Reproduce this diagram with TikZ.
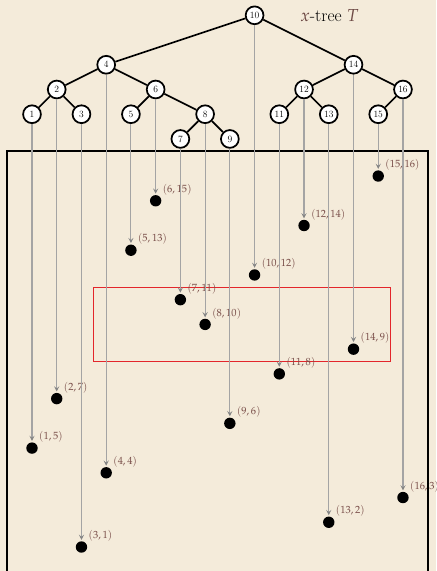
\documentclass[tikz,border=0pt]{standalone}
\usepackage{mathpazo}
\usetikzlibrary{arrows.meta}
\definecolor{bg}{HTML}{F4EBDA}
\definecolor{lblc}{HTML}{7A4F4A}
\definecolor{ttlc}{HTML}{6E4A45}
\definecolor{glin}{HTML}{A4A4A4}
\definecolor{garr}{HTML}{858585}
\definecolor{redbox}{HTML}{E3262B}
\begin{document}
\begin{tikzpicture}[x=1cm,y=1cm,
  tnode/.style={circle, draw=black, line width=2pt, fill=white, minimum size=0.72cm, inner sep=0pt, font=\fontsize{11}{13}\selectfont},
  tedge/.style={line width=1.9pt, black},
  ptnode/.style={circle, fill=black, minimum size=0.46cm, inner sep=0pt},
  proj/.style={draw=glin, line width=1.3pt, -{Stealth[length=6pt,width=6pt,inset=2.5pt,color=garr]}, shorten >=1.5pt},
  lbl/.style={text=lblc, font=\fontsize{12}{14}\selectfont, anchor=west, inner sep=0pt},
  frame/.style={draw=black, line width=2.3pt},
  query/.style={draw=redbox, line width=1.1pt}
]
\useasboundingbox[fill=bg] (-0.294,0.03) rectangle (17.337,23.119);
% frame
\draw[frame] (0,0) rectangle (17,17);
% query rectangle
\draw[query] (3.5,8.5) rectangle (15.5,11.5);
% title
\node[font=\fontsize{20}{22}\selectfont] (title) at (13.03,22.5) {\textcolor{ttlc}{$x$}-tree \textcolor{ttlc}{$T$}};
% tree nodes
\node[tnode] (t10) at (10,22.5) {10};
\node[tnode] (t4) at (4,20.5) {4};
\node[tnode] (t14) at (14,20.5) {14};
\node[tnode] (t2) at (2,19.5) {2};
\node[tnode] (t6) at (6,19.5) {6};
\node[tnode] (t12) at (12,19.5) {12};
\node[tnode] (t16) at (16,19.5) {16};
\node[tnode] (t1) at (1,18.5) {1};
\node[tnode] (t3) at (3,18.5) {3};
\node[tnode] (t5) at (5,18.5) {5};
\node[tnode] (t8) at (8,18.5) {8};
\node[tnode] (t11) at (11,18.5) {11};
\node[tnode] (t13) at (13,18.5) {13};
\node[tnode] (t15) at (15,18.5) {15};
\node[tnode] (t7) at (7,17.5) {7};
\node[tnode] (t9) at (9,17.5) {9};
% tree edges
\foreach \a/\b in {10/4,10/14,4/2,4/6,2/1,2/3,6/5,6/8,8/7,8/9,14/12,14/16,12/11,12/13,16/15}
  \draw[tedge] (t\a) -- (t\b);
% points, labels and projections
\foreach \k/\v in {1/5,2/7,3/1,4/4,5/13,6/15,7/11,8/10,9/6,10/12,11/8,12/14,13/2,14/9,15/16,16/3}{
  \node[ptnode] (p\k) at (\k,\v) {};
  \node[lbl] (l\k) at (\k+0.28,\v+0.45) {$(\k,\v)$};
  \draw[proj] (t\k) -- (p\k);
}
\end{tikzpicture}
\end{document}
